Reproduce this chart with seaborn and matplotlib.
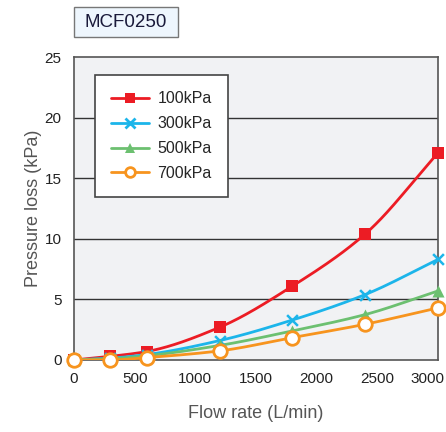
import numpy as np
import pandas as pd
import matplotlib
matplotlib.use('Agg')
import matplotlib.pyplot as plt
import matplotlib.transforms as mtransforms
from matplotlib.lines import Line2D
from matplotlib.patches import Rectangle
import seaborn as sns

# Data
flow = [0, 300, 600, 1200, 1800, 2400, 3000]
p100 = [0.0, 0.3, 0.7, 2.7, 6.1, 10.4, 17.1]
p300 = [0.0, 0.15, 0.45, 1.6, 3.3, 5.4, 8.3]
p500 = [0.0, 0.1, 0.35, 1.2, 2.4, 3.75, 5.7]
p700 = [0.0, 0.0, 0.2, 0.75, 1.85, 2.95, 4.3]
series_names = ['100kPa', '300kPa', '500kPa', '700kPa']

colors = ['#ec1c24', '#1cb5ea', '#6cc070', '#f7941e']
markers = ['s', 'x', '^', 'o']

df = pd.DataFrame({'flow': flow * 4,
                   'loss': p100 + p300 + p500 + p700,
                   'series': sum([[n] * len(flow) for n in series_names], [])})


def smooth(x, y, n=200):
    # monotone cubic (Fritsch-Carlson) curve through the points, for drawing only
    x = np.asarray(x, float); y = np.asarray(y, float)
    h = np.diff(x); d = np.diff(y) / h
    m = np.zeros_like(y)
    m[0], m[-1] = d[0], d[-1]
    for i in range(1, len(x) - 1):
        if d[i - 1] * d[i] > 0:
            w1 = 2 * h[i] + h[i - 1]; w2 = h[i] + 2 * h[i - 1]
            m[i] = (w1 + w2) / (w1 / d[i - 1] + w2 / d[i])
    xs = np.linspace(x[0], x[-1], n)
    k = np.clip(np.searchsorted(x, xs) - 1, 0, len(x) - 2)
    t = (xs - x[k]) / h[k]
    h00 = 2*t**3 - 3*t**2 + 1; h10 = t**3 - 2*t**2 + t
    h01 = -2*t**3 + 3*t**2; h11 = t**3 - t**2
    ys = h00*y[k] + h10*h[k]*m[k] + h01*y[k+1] + h11*h[k]*m[k+1]
    return xs, ys


sns.set_theme(style='white')
plt.rcParams['font.family'] = ['Liberation Sans', 'DejaVu Sans']

fig = plt.figure(figsize=(4.46, 4.32), dpi=100)
ax = fig.add_axes([0.166, 0.1667, 0.816, 0.701])
ax.set_facecolor('#f1f2f4')

for y in [5, 10, 15, 20]:
    ax.axhline(y, color='#333333', lw=1.0, zorder=1)

handles = []
for name, c, mk in zip(series_names, colors, markers):
    sub = df[df['series'] == name]
    xs, ys = smooth(sub['flow'], sub['loss'])
    sns.lineplot(x=xs, y=ys, ax=ax, color=c, lw=2.0, zorder=3)
    if mk == 'o':
        kw = dict(s=95, facecolor='white', edgecolor=c, linewidth=2.0)
    elif mk == 'x':
        kw = dict(s=60, color=c, linewidth=1.8)
    else:
        kw = dict(s=75, color=c, edgecolor=c, linewidth=0)
    sns.scatterplot(data=sub, x='flow', y='loss', ax=ax, marker=mk, zorder=4,
                    clip_on=False, legend=False, **kw)
    handles.append(Line2D([], [], color=c, lw=2.0, marker=mk, markersize=7,
                          markerfacecolor='white' if mk == 'o' else c,
                          markeredgecolor=c, markeredgewidth=2.0 if mk in 'ox' else 0))

ax.set_xlim(0, 3000)
ax.set_ylim(0, 25)
ax.set_xticks([0, 500, 1000, 1500, 2000, 2500, 3000])
ax.set_yticks([0, 5, 10, 15, 20, 25])
ax.tick_params(axis='both', length=0, labelsize=11, labelcolor='#222222')
ax.tick_params(axis='x', pad=9)
ax.tick_params(axis='y', pad=9)
# nudge the last x label so it stays inside the figure
last = ax.get_xticklabels()[-1]
last.set_transform(last.get_transform() + mtransforms.ScaledTranslation(-0.11, 0, fig.dpi_scale_trans))
ax.set_xlabel('Flow rate (L/min)', fontsize=13, color='#555555', labelpad=13)
ax.set_ylabel('Pressure loss (kPa)', fontsize=13, color='#555555', labelpad=2)
for s in ax.spines.values():
    s.set_color('#555555')
    s.set_linewidth(1.2)

leg = ax.legend(handles, series_names, loc='upper left', bbox_to_anchor=(0.058, 0.94),
                borderaxespad=0, frameon=True, fancybox=False, fontsize=11.5,
                handlelength=2.4, labelspacing=0.62, borderpad=1.0, handletextpad=0.5)
leg.get_frame().set_edgecolor('#444444')
leg.get_frame().set_linewidth(1.2)
leg.get_frame().set_facecolor('white')
leg.get_frame().set_alpha(1)

# title box
fig.patches.append(Rectangle((74 / 446, 1 - 37 / 432), 104 / 446, 30 / 432,
                             transform=fig.transFigure, facecolor='#eef6fd',
                             edgecolor='#777777', lw=1.0))
fig.text(126 / 446, 1 - 22.5 / 432, 'MCF0250', ha='center', va='center',
         fontsize=13.5, color='#1a1a3a')

fig.savefig('out.png', dpi=100)
